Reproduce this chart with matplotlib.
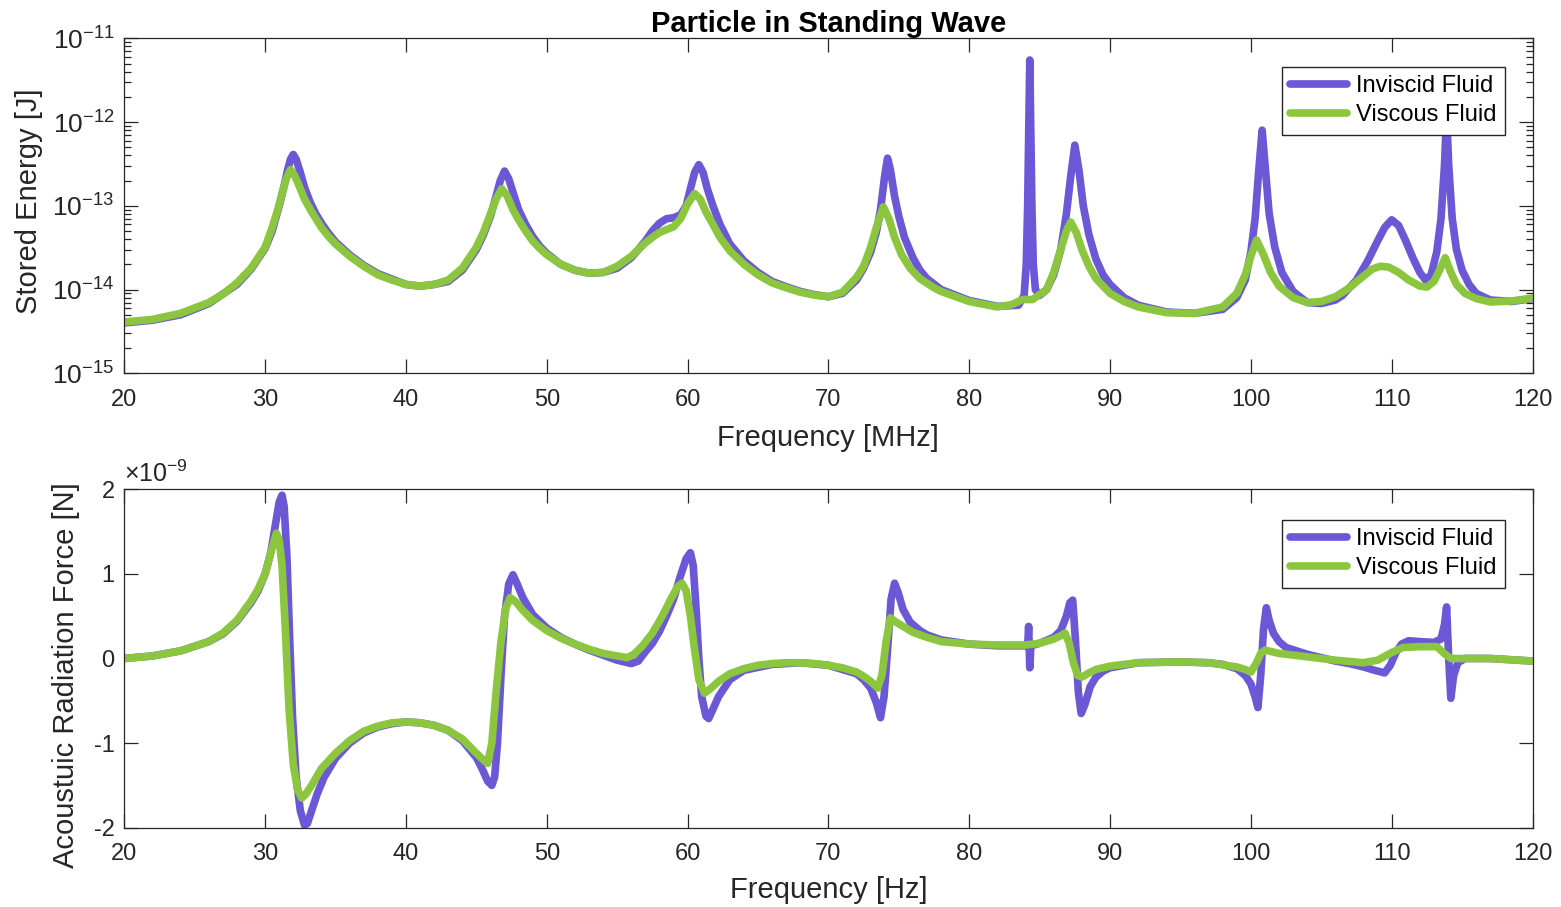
import numpy as np
import matplotlib
matplotlib.use("Agg")
import matplotlib.pyplot as plt
from matplotlib.ticker import NullFormatter, FuncFormatter, LogLocator, FixedLocator

plt.rcParams['font.family'] = ['Liberation Sans', 'DejaVu Sans']
plt.rcParams['mathtext.fontset'] = 'custom'
plt.rcParams['mathtext.rm'] = 'Liberation Sans'
plt.rcParams['mathtext.it'] = 'Liberation Sans:italic'
plt.rcParams['mathtext.bf'] = 'Liberation Sans:bold'
plt.rcParams['axes.unicode_minus'] = False

# ---------------- data ----------------
title = "Particle in Standing Wave"
series_names = ["Inviscid Fluid", "Viscous Fluid"]

# Top panel: stored energy [J] vs frequency [MHz]
energy_inviscid_f = [20, 22, 24, 26, 28, 29, 30, 30.5, 31, 31.3, 31.6, 31.8, 32, 32.2, 32.5, 32.8, 33.2, 33.6,
                     34, 34.5, 35, 36, 37, 38, 40, 41, 42, 43, 44, 45, 45.5, 46, 46.4, 46.7, 47, 47.3, 47.6,
                     48, 48.5, 49, 49.5, 50, 51, 52, 53, 54, 55, 56, 56.5, 57, 57.5, 58, 58.5, 59, 59.5,
                     59.9, 60.2, 60.5, 60.8, 61.1, 61.4, 61.8, 62.3, 63, 64, 65, 66, 67, 68, 69, 70, 71, 72,
                     72.5, 73, 73.4, 73.7, 74, 74.2, 74.4, 74.7, 75, 75.4, 76, 76.5, 77, 78, 80, 82, 83.5,
                     83.9, 84.05, 84.15, 84.25, 84.3, 84.35, 84.45, 84.55, 84.7, 85, 85.5, 86, 86.5, 86.9,
                     87.2, 87.5, 87.8, 88.1, 88.5, 89, 89.5, 90, 91, 92, 94, 96, 98, 99, 99.6, 100, 100.3,
                     100.55, 100.8, 101.05, 101.3, 101.7, 102.2, 103, 104, 105, 106, 106.5, 107.5, 108.3,
                     109, 109.5, 110, 110.5, 111, 111.5, 112, 112.4, 112.8, 113.2, 113.5, 113.75, 113.9,
                     114.05, 114.3, 114.6, 115, 115.5, 116, 117, 118.5, 120]
energy_inviscid = [4.0e-15, 4.3e-15, 5.0e-15, 6.8e-15, 1.15e-14, 1.75e-14, 3.1e-14, 5.0e-14, 1.0e-13,
                   1.6e-13, 2.7e-13, 3.6e-13, 4.1e-13, 3.6e-13, 2.5e-13, 1.65e-13, 1.1e-13, 8.0e-14,
                   6.2e-14, 4.7e-14, 3.7e-14, 2.6e-14, 1.95e-14, 1.55e-14, 1.15e-14, 1.1e-14, 1.15e-14,
                   1.25e-14, 1.7e-14, 3.0e-14, 4.5e-14, 7.5e-14, 1.3e-13, 2.0e-13, 2.6e-13, 2.1e-13,
                   1.45e-13, 9.0e-14, 6.0e-14, 4.3e-14, 3.3e-14, 2.7e-14, 2.0e-14, 1.7e-14, 1.57e-14,
                   1.6e-14, 1.8e-14, 2.4e-14, 3.0e-14, 3.8e-14, 5.0e-14, 6.2e-14, 7.0e-14, 7.2e-14,
                   7.8e-14, 1.0e-13, 1.6e-13, 2.5e-13, 3.1e-13, 2.5e-13, 1.6e-13, 1.0e-13, 6.0e-14,
                   3.5e-14, 2.2e-14, 1.6e-14, 1.25e-14, 1.08e-14, 9.5e-15, 8.7e-15, 8.2e-15, 9.0e-15,
                   1.3e-14, 1.8e-14, 2.8e-14, 4.8e-14, 9.0e-14, 2.3e-13, 3.7e-13, 2.7e-13, 1.3e-13,
                   7.5e-14, 4.2e-14, 2.4e-14, 1.7e-14, 1.35e-14, 1.0e-14, 7.4e-15, 6.3e-15, 6.5e-15,
                   8.5e-15, 2.0e-14, 1.0e-13, 1.5e-12, 5.5e-12, 1.5e-12, 1.0e-13, 2.0e-14, 1.0e-14,
                   8.5e-15, 1.0e-14, 1.5e-14, 3.0e-14, 8.0e-14, 2.2e-13, 5.3e-13, 2.6e-13, 1.0e-13,
                   4.5e-14, 2.3e-14, 1.5e-14, 1.15e-14, 8.0e-15, 6.5e-15, 5.4e-15, 5.2e-15, 5.8e-15,
                   8.0e-15, 1.3e-14, 2.8e-14, 7.0e-14, 2.5e-13, 8.0e-13, 2.5e-13, 8.0e-14, 3.2e-14,
                   1.6e-14, 9.5e-15, 7.0e-15, 6.8e-15, 7.5e-15, 8.5e-15, 1.3e-14, 2.2e-14, 3.8e-14,
                   5.5e-14, 6.8e-14, 5.8e-14, 3.8e-14, 2.4e-14, 1.6e-14, 1.3e-14, 1.5e-14, 2.8e-14,
                   7.0e-14, 3.0e-13, 1.3e-12, 3.0e-13, 7.0e-14, 3.0e-14, 1.7e-14, 1.15e-14, 9.0e-15,
                   7.5e-15, 7.2e-15, 7.8e-15]

energy_viscous_f = [20, 22, 24, 26, 27, 28, 29, 30, 30.5, 30.9, 31.2, 31.5, 31.8, 32.1, 32.4, 32.8, 33.3,
                    34, 34.5, 35, 36, 37, 38, 39, 40, 41, 42, 43, 44, 45, 45.5, 46, 46.4, 46.8, 47.2, 47.6,
                    48, 48.5, 49, 49.5, 50, 51, 52, 53, 54, 55, 56, 57, 57.5, 58, 58.5, 59, 59.5, 60, 60.5,
                    60.9, 61.3, 61.8, 62.3, 63, 64, 65, 66, 67, 68, 69, 70, 71, 72, 72.5, 73, 73.4, 73.9,
                    74.3, 74.7, 75.2, 75.8, 76.5, 77.5, 78, 80, 82, 83, 83.8, 84.5, 85.5, 86, 86.5, 86.9,
                    87.2, 87.6, 88, 88.5, 89, 90, 91, 92, 94, 96, 98, 99, 99.6, 100, 100.4, 100.9, 101.4,
                    102, 103, 104, 105, 106, 107, 108, 108.6, 109.2, 109.8, 110.5, 111.2, 112, 112.5, 113,
                    113.4, 113.8, 114.2, 114.6, 115.2, 116, 117, 118.5, 120]
energy_viscous = [4.1e-15, 4.4e-15, 5.2e-15, 7.0e-15, 8.8e-15, 1.2e-14, 1.8e-14, 3.2e-14, 5.5e-14, 9.0e-14,
                  1.4e-13, 2.1e-13, 2.7e-13, 2.3e-13, 1.75e-13, 1.2e-13, 8.5e-14, 5.5e-14, 4.3e-14,
                  3.5e-14, 2.5e-14, 1.9e-14, 1.5e-14, 1.3e-14, 1.15e-14, 1.1e-14, 1.15e-14, 1.3e-14,
                  1.8e-14, 3.2e-14, 4.8e-14, 8.0e-14, 1.2e-13, 1.6e-13, 1.3e-13, 9.0e-14, 6.8e-14,
                  5.0e-14, 3.8e-14, 3.1e-14, 2.6e-14, 2.0e-14, 1.7e-14, 1.57e-14, 1.6e-14, 1.9e-14,
                  2.5e-14, 3.6e-14, 4.2e-14, 4.8e-14, 5.2e-14, 5.6e-14, 7.0e-14, 1.05e-13, 1.4e-13,
                  1.2e-13, 8.5e-14, 6.0e-14, 4.2e-14, 2.9e-14, 2.0e-14, 1.5e-14, 1.2e-14, 1.05e-14,
                  9.3e-15, 8.6e-15, 8.2e-15, 9.3e-15, 1.4e-14, 1.9e-14, 3.2e-14, 5.5e-14, 9.7e-14,
                  7.0e-14, 4.2e-14, 2.6e-14, 1.8e-14, 1.35e-14, 1.05e-14, 9.5e-15, 7.2e-15, 6.2e-15,
                  6.6e-15, 7.6e-15, 7.6e-15, 1.0e-14, 1.6e-14, 3.0e-14, 5.0e-14, 6.4e-14, 4.8e-14,
                  3.0e-14, 1.9e-14, 1.35e-14, 9.0e-15, 7.2e-15, 6.2e-15, 5.3e-15, 5.2e-15, 6.2e-15,
                  9.0e-15, 1.5e-14, 2.5e-14, 3.9e-14, 2.6e-14, 1.6e-14, 1.1e-14, 8.0e-15, 7.0e-15,
                  7.2e-15, 8.2e-15, 1.05e-14, 1.45e-14, 1.75e-14, 1.9e-14, 1.85e-14, 1.6e-14, 1.3e-14,
                  1.1e-14, 1.07e-14, 1.25e-14, 1.7e-14, 2.4e-14, 1.6e-14, 1.15e-14, 9.0e-15, 7.8e-15,
                  7.1e-15, 7.3e-15, 7.9e-15]

# Bottom panel: acoustic radiation force, in units of 1e-9 N
force_inviscid_f = [20, 22, 24, 26, 27, 28, 29, 29.5, 30, 30.4, 30.7, 31.0, 31.2, 31.35, 31.55, 31.75, 31.95,
                    32.2, 32.5, 32.8, 33.0, 33.3, 33.7, 34.2, 35, 36, 37, 38, 39, 40, 41, 42, 43, 44, 44.5,
                    45, 45.4, 45.8, 46.1, 46.3, 46.5, 46.75, 47.0, 47.3, 47.6, 47.9, 48.3, 49, 50, 51, 52,
                    53, 54, 55, 56, 56.5, 57, 57.5, 58, 58.5, 59, 59.5, 59.9, 60.2, 60.4, 60.6, 60.8, 61.0,
                    61.3, 61.5, 61.8, 62.2, 63, 64, 66, 68, 70, 72, 72.5, 73, 73.4, 73.7, 73.95, 74.2,
                    74.45, 74.7, 74.95, 75.3, 75.8, 76.5, 77, 78, 80, 82, 84.15, 84.22, 84.3, 84.38, 85, 86,
                    86.5, 86.9, 87.15, 87.35, 87.55, 87.75, 87.95, 88.2, 88.6, 89, 89.5, 90, 92, 95, 97, 98,
                    99, 99.6, 100, 100.3, 100.5, 100.7, 100.9, 101.1, 101.3, 101.6, 102, 102.5, 104, 106,
                    107, 108, 108.8, 109.5, 109.9, 110.3, 110.7, 111.2, 112, 113, 113.5, 113.75, 113.9,
                    114.05, 114.2, 114.4, 114.7, 115.2, 117, 120]
force_inviscid = [0.0, 0.03, 0.09, 0.2, 0.29, 0.44, 0.66, 0.8, 1.0, 1.25, 1.55, 1.85, 1.93, 1.8, 1.2, 0.2,
                  -0.7, -1.4, -1.8, -1.97, -1.95, -1.8, -1.6, -1.4, -1.18, -1.0, -0.88, -0.81, -0.77,
                  -0.75, -0.76, -0.79, -0.85, -0.97, -1.07, -1.17, -1.3, -1.45, -1.5, -1.4, -1.0, -0.2,
                  0.5, 0.88, 0.99, 0.88, 0.72, 0.52, 0.36, 0.25, 0.17, 0.1, 0.04, -0.02, -0.06, -0.03,
                  0.08, 0.18, 0.32, 0.5, 0.7, 0.98, 1.18, 1.25, 1.1, 0.6, 0.0, -0.45, -0.68, -0.71,
                  -0.6, -0.45, -0.25, -0.14, -0.07, -0.05, -0.08, -0.18, -0.25, -0.35, -0.52, -0.7,
                  -0.45, 0.1, 0.7, 0.89, 0.78, 0.58, 0.43, 0.33, 0.28, 0.22, 0.17, 0.15, 0.15, 0.38,
                  -0.11, 0.15, 0.18, 0.25, 0.33, 0.5, 0.66, 0.69, 0.2, -0.4, -0.65, -0.55, -0.33, -0.22,
                  -0.15, -0.11, -0.05, -0.04, -0.05, -0.07, -0.12, -0.2, -0.3, -0.45, -0.58, -0.2, 0.35,
                  0.6, 0.45, 0.3, 0.2, 0.13, 0.05, -0.03, -0.06, -0.1, -0.14, -0.17, -0.08, 0.07, 0.17,
                  0.21, 0.2, 0.19, 0.23, 0.4, 0.61, 0.0, -0.47, -0.2, -0.05, 0.0, 0.0, -0.03]

force_viscous_f = [20, 22, 24, 26, 27, 28, 29, 29.5, 30, 30.4, 30.8, 31.0, 31.2, 31.45, 31.7, 32.0, 32.3,
                   32.6, 32.9, 33.3, 34, 35, 36, 37, 38, 39, 40, 41, 42, 43, 44, 45, 45.5, 45.8, 46.1,
                   46.4, 46.75, 47.1, 47.4, 47.8, 48.3, 49, 50, 51, 52, 53, 54, 55, 55.7, 56.2, 56.8,
                   57.5, 58.2, 58.8, 59.3, 59.6, 59.9, 60.2, 60.5, 60.8, 61.2, 61.6, 62.2, 63, 64, 65, 66,
                   67, 68, 69, 70, 71, 72, 72.5, 73, 73.5, 73.8, 74.1, 74.4, 74.8, 75.3, 76, 77, 78, 80,
                   82, 84, 85, 86, 86.5, 86.8, 87.1, 87.4, 87.7, 88, 88.5, 89, 90, 92, 95, 97, 99, 99.6,
                   100, 100.4, 100.7, 101, 101.5, 102, 104, 106, 108, 109, 110, 110.8, 112, 113.2, 113.8,
                   114.2, 115, 117, 120]
force_viscous = [0.0, 0.03, 0.09, 0.2, 0.3, 0.45, 0.68, 0.82, 1.0, 1.25, 1.48, 1.4, 1.1, 0.3, -0.6, -1.25,
                 -1.55, -1.65, -1.6, -1.5, -1.3, -1.12, -0.97, -0.86, -0.8, -0.76, -0.75, -0.76, -0.79,
                 -0.85, -0.95, -1.12, -1.2, -1.24, -1.0, -0.4, 0.2, 0.6, 0.72, 0.67, 0.57, 0.45, 0.33,
                 0.24, 0.17, 0.11, 0.06, 0.03, 0.01, 0.05, 0.15, 0.3, 0.5, 0.7, 0.85, 0.89, 0.8, 0.5,
                 0.1, -0.25, -0.41, -0.36, -0.27, -0.18, -0.12, -0.08, -0.06, -0.05, -0.05, -0.06, -0.08,
                 -0.11, -0.16, -0.21, -0.27, -0.35, -0.2, 0.2, 0.48, 0.43, 0.38, 0.31, 0.25, 0.2, 0.17,
                 0.16, 0.16, 0.18, 0.23, 0.27, 0.30, 0.18, -0.05, -0.2, -0.22, -0.17, -0.13, -0.09, -0.05,
                 -0.04, -0.05, -0.1, -0.13, -0.16, -0.05, 0.06, 0.1, 0.08, 0.06, 0.02, -0.02, -0.05,
                 -0.02, 0.07, 0.13, 0.14, 0.14, 0.05, 0.0, 0.0, 0.0, -0.03]

x_ticks = [20, 30, 40, 50, 60, 70, 80, 90, 100, 110, 120]
energy_ticks = [1e-15, 1e-14, 1e-13, 1e-12, 1e-11]
force_ticks = [-2, -1, 0, 1, 2]
force_scale = 1e-9

# ---------------- styling ----------------
c_inv = "#6a58d6"
c_visc = "#8cc63e"
ink = "#262626"
lw = 5.5

W, H = 1561, 907
fig = plt.figure(figsize=(W / 100, H / 100), dpi=100)
ax1 = fig.add_axes([124.3 / W, 1 - 373.3 / H, 1408.2 / W, 335.0 / H])
ax2 = fig.add_axes([124.3 / W, 1 - 827.7 / H, 1408.2 / W, 338.4 / H])

line_kw = dict(lw=lw, solid_joinstyle='round', solid_capstyle='round')

# Top panel
ax1.plot(energy_inviscid_f, energy_inviscid, color=c_inv, label=series_names[0], **line_kw)
ax1.plot(energy_viscous_f, energy_viscous, color=c_visc, label=series_names[1], **line_kw)
ax1.set_yscale('log')
ax1.set_ylim(energy_ticks[0], energy_ticks[-1])
ax1.set_xlim(20, 120)
ax1.yaxis.set_major_locator(FixedLocator(energy_ticks))
minor = [m * t for t in energy_ticks[:-1] for m in range(2, 10)]
ax1.yaxis.set_minor_locator(FixedLocator(minor))
ax1.yaxis.set_minor_formatter(NullFormatter())
ax1.yaxis.set_major_formatter(FuncFormatter(
    lambda v, p: r"$\mathdefault{10^{%d}}$" % int(round(np.log10(v)))))
ax1.set_title(title, fontsize=21, fontweight='bold', pad=4, color='black')
ax1.set_xlabel("Frequency [MHz]", fontsize=21, color=ink)
ax1.set_ylabel("Stored Energy [J]", fontsize=21, color=ink)

# Bottom panel
ax2.plot(force_inviscid_f, np.array(force_inviscid) * force_scale, color=c_inv,
         label=series_names[0], **line_kw)
ax2.plot(force_viscous_f, np.array(force_viscous) * force_scale, color=c_visc,
         label=series_names[1], **line_kw)
ax2.set_xlim(20, 120)
ax2.set_ylim(-2 * force_scale, 2 * force_scale)
ax2.set_yticks(np.array(force_ticks) * force_scale)
ax2.yaxis.set_major_formatter(FuncFormatter(lambda v, p: "%d" % round(v / force_scale)))
ax2.text(0.0, 1.008, r"$\times\mathdefault{10^{-9}}$", transform=ax2.transAxes,
         fontsize=18, color=ink, ha='left', va='bottom')
ax2.set_xlabel("Frequency [Hz]", fontsize=21, color=ink)
ax2.set_ylabel("Acoustuic Radiation Force [N]", fontsize=21, color=ink)

for ax in (ax1, ax2):
    ax.set_xticks(x_ticks)
    ax.tick_params(which='both', direction='in', top=True, right=True, colors=ink,
                   labelsize=17, width=0.9)
    ax.tick_params(which='major', length=10)
    ax.tick_params(which='minor', length=5)
    ax.tick_params(axis='x', pad=11)
    ax.tick_params(axis='y', pad=7)
    for s in ax.spines.values():
        s.set_color(ink)
        s.set_linewidth(0.9)
    ax.legend(loc='upper right', frameon=True, fancybox=False, edgecolor=ink, framealpha=1,
              fontsize=17, handlelength=2.4, labelspacing=0.3, borderpad=0.35,
              handletextpad=0.4, borderaxespad=0,
              bbox_to_anchor=(0.9805, 0.914 if ax is ax1 else 0.909))
    ax.get_legend().get_frame().set_linewidth(1.0)
ax1.tick_params(axis='y', which='major', labelsize=19)
ax2.minorticks_off()

ax1.yaxis.set_label_coords(-0.0577, 0.514)
ax2.yaxis.set_label_coords(-0.0315, 0.45)
ax1.xaxis.set_label_coords(0.5, -0.151)
ax2.xaxis.set_label_coords(0.5, -0.143)

fig.savefig("out.png", dpi=100)
